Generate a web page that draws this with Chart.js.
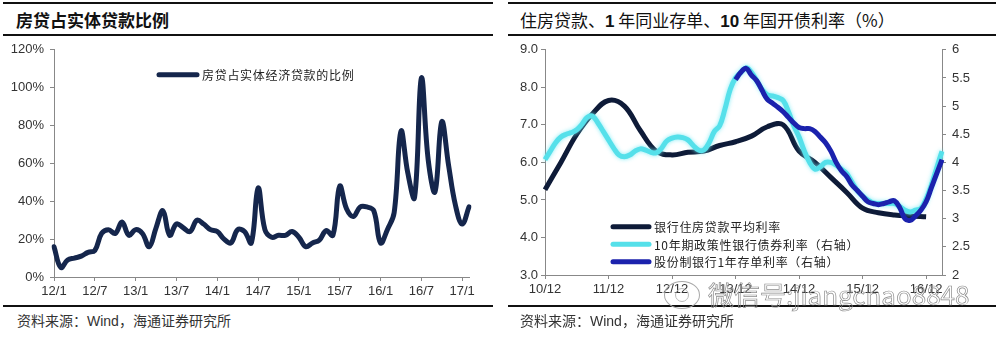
<!DOCTYPE html>
<html>
<head>
<meta charset="utf-8">
<script src="https://cdn.jsdelivr.net/npm/chart.js@4.4.1/dist/chart.umd.min.js"></script>
<style>
  body { margin:0; width:1000px; height:337px; background:#fff; position:relative; overflow:hidden;
         font-family:"Noto Sans CJK SC", sans-serif; }
  .rule { position:absolute; height:0; border-top:2px solid #111; }
  .title { position:absolute; top:7px; font-size:17px; color:#111; white-space:nowrap; }
  .src { position:absolute; top:310px; font-size:14px; color:#333; white-space:nowrap; }
  canvas { position:absolute; top:36px; }
  .wm { position:absolute; left:708px; top:275px; font-size:26px; color:transparent;
        -webkit-text-stroke:0.7px #8c8c8c; white-space:nowrap;
        font-family:"Noto Sans CJK SC", sans-serif; }
  .wm-icon { position:absolute; left:664px; top:281px; width:34px; height:26px; border:1px solid #aaa;
             border-radius:50%; }
  .wm-icon::after { content:""; position:absolute; left:10px; top:6px; width:12px; height:12px;
                    border:1px solid #bbb; border-radius:50%; }
</style>
</head>
<body>
<div class="rule" style="left:3px;width:490px;top:2px"></div>
<div class="rule" style="left:3px;width:490px;top:34px"></div>
<div class="rule" style="left:3px;width:490px;top:305px"></div>
<div class="rule" style="left:508px;width:488px;top:2px"></div>
<div class="rule" style="left:508px;width:488px;top:34px"></div>
<div class="rule" style="left:508px;width:488px;top:305px"></div>

<div class="title" style="left:16px;font-weight:bold">房贷占实体贷款比例</div>
<div class="title" style="left:520px">住房贷款、<b style="font-family:'Liberation Sans'">1</b> 年同业存单、<b style="font-family:'Liberation Sans'">10</b> 年国开债利率（%）</div>

<canvas id="shareChart" width="493" height="270" style="left:0"></canvas>
<canvas id="rateChart" width="495" height="270" style="left:500px"></canvas>

<div class="src" style="left:17px">资料来源：<span style="font-family:'Liberation Sans'">Wind</span>，海通证券研究所</div>
<div class="src" style="left:520px">资料来源：<span style="font-family:'Liberation Sans'">Wind</span>，海通证券研究所</div>

<div class="wm-icon"></div>
<div class="wm">微信号:jiangchao8848</div>

<script>
// --- 房贷占实体经济贷款的比例, monthly 2012/1 - 2017/2 (%)
const shareTicks = ['12/1','12/7','13/1','13/7','14/1','14/7','15/1','15/7','16/1','16/7','17/1'];
const shareValues = [
  16, 5, 9, 10, 11, 13, 14, 23, 25, 23,
  29, 22, 25, 23, 16, 26, 35, 22, 28, 26,
  24, 30, 28, 25, 24, 20, 18, 25, 24, 18,
  47, 25, 21, 22, 22, 24, 21, 16, 18, 19.5,
  24.5, 22, 48, 36, 32, 37, 37, 35, 18, 25,
  34, 77, 55, 42, 105, 62, 45, 82, 59, 38,
  28, 37
];

// --- rates, monthly 2010/12 - 2017/3 (%)
const rateTicks = ['10/12','11/12','12/12','13/12','14/12','15/12','16/12'];
// quarterly series, gaps spanned
const mortgageRate = [
  5.27, null, null, 6.0, null, null, 6.75, null, null, 7.3, null, null,
  7.65, null, null, 7.5, null, null, 6.85, null, null, 6.3, null, null,
  6.2, null, null, 6.27, null, null, 6.3, null, null, 6.45, null, null,
  6.55, null, null, 6.7, null, null, 6.95, null, null, 7.0, null, null,
  6.3, null, null, 6.0, null, null, 5.6, null, null, 5.2, null, null,
  4.78, null, null, 4.66, null, null, 4.6, null, null, 4.57, null, null,
  4.55, null, null, null
];
const cdb10y = [
  4.05, 4.2, 4.35, 4.45, 4.5, 4.53, 4.58, 4.68, 4.8, 4.82, 4.7, 4.55,
  4.4, 4.25, 4.13, 4.1, 4.13, 4.2, 4.24, 4.22, 4.18, 4.17, 4.25, 4.38,
  4.43, 4.45, 4.44, 4.4, 4.3, 4.22, 4.22, 4.35, 4.55, 4.65, 4.95, 5.3,
  5.5, 5.6, 5.68, 5.6, 5.45, 5.3, 5.2, 5.18, 5.15, 5.1, 4.9, 4.65,
  4.45, 4.2, 4.0, 3.88, 3.92, 4.0, 4.0, 3.95, 3.88, 3.8, 3.65, 3.5,
  3.4, 3.33, 3.28, 3.27, 3.27, 3.27, 3.27, 3.22, 3.15, 3.12, 3.15, 3.18,
  3.35, 3.6, 3.9, 4.2
];
const ncd1y = [
  null, null, null, null, null, null, null, null, null, null, null, null,
  null, null, null, null, null, null, null, null, null, null, null, null,
  null, null, null, null, null, null, null, null, null, null, null, null,
  5.47, 5.6, 5.67, 5.55, 5.45, 5.28, 5.12, 5.05, 4.98, 4.9, 4.8, 4.7,
  4.62, 4.6, 4.6, 4.55, 4.45, 4.35, 4.2, 4.0, 3.85, 3.75, 3.6, 3.5,
  3.4, 3.3, 3.27, 3.25, 3.27, 3.3, 3.32, 3.2, 3.0, 2.97, 3.05, 3.15,
  3.3, 3.55, 3.8, 4.05
];

function monthLabels(year, month, count) {
  const out = [];
  for (let i = 0; i < count; i++) {
    out.push((year % 100) + '/' + month);
    month++;
    if (month > 12) { month = 1; year++; }
  }
  return out;
}
const shareMonths = monthLabels(2012, 1, shareValues.length);
const rateMonths = monthLabels(2010, 12, cdb10y.length);

const tickFont = { family: 'Liberation Sans', size: 13 };

// legend drawn inside the plot area
const inlineLegend = {
  id: 'inlineLegend',
  afterDraw(chart, args, opts) {
    const { ctx, chartArea } = chart;
    ctx.save();
    ctx.font = '12px "Noto Sans CJK SC"';
    ctx.letterSpacing = '0.7px';
    ctx.textBaseline = 'middle';
    chart.data.datasets.forEach((ds, i) => {
      const x = chartArea.left + opts.dx;
      const y = chartArea.top + opts.dy + i * opts.gap;
      ctx.strokeStyle = ds.borderColor;
      ctx.lineWidth = 5;
      ctx.lineCap = 'round';
      ctx.beginPath();
      ctx.moveTo(x, y);
      ctx.lineTo(x + opts.len, y);
      ctx.stroke();
      ctx.fillStyle = '#222';
      ctx.fillText(ds.label, x + opts.len + 5, y + 1);
    });
    ctx.restore();
  }
};

// soft halo on the cyan line
const lineGlow = {
  id: 'lineGlow',
  beforeDatasetDraw(chart, args) {
    const ds = chart.data.datasets[args.index];
    chart.ctx.save();
    if (ds.glow) {
      chart.ctx.shadowColor = ds.glow;
      chart.ctx.shadowBlur = 4;
    }
  },
  afterDatasetDraw(chart) {
    chart.ctx.restore();
  }
};

function monthAxis(ticks, height) {
  return {
    grid: { drawOnChartArea: false, tickLength: 4, color: '#888' },
    border: { color: '#888' },
    ticks: {
      autoSkip: false, maxRotation: 0, padding: 3, color: '#333', font: tickFont,
      callback(v) {
        const lab = this.getLabelForValue(v);
        return ticks.includes(lab) ? lab : null;
      }
    },
    afterFit(s) { s.height = height; }
  };
}

new Chart(document.getElementById('shareChart'), {
  type: 'line',
  data: {
    labels: shareMonths,
    datasets: [{
      label: '房贷占实体经济贷款的比例',
      data: shareValues,
      borderColor: '#15264c',
      borderWidth: 5,
      pointRadius: 0,
      tension: 0.4,
      borderCapStyle: 'round',
      borderJoinStyle: 'round'
    }]
  },
  options: {
    responsive: false,
    animation: false,
    layout: { padding: { top: 11, right: 24, left: 0, bottom: 0 } },
    plugins: {
      legend: { display: false },
      tooltip: { enabled: false },
      inlineLegend: { dx: 105, dy: 25, gap: 0, len: 38 }
    },
    scales: {
      x: monthAxis(shareTicks, 29),
      y: {
        min: 0, max: 120,
        grid: { drawOnChartArea: false, tickLength: 4, color: '#888' },
        border: { color: '#888' },
        ticks: { stepSize: 20, padding: 6, color: '#333', font: tickFont, callback: v => v + '%' },
        afterFit(s) { s.width = 54; }
      }
    }
  },
  plugins: [inlineLegend]
});

new Chart(document.getElementById('rateChart'), {
  type: 'line',
  data: {
    labels: rateMonths,
    datasets: [
      {
        label: '银行住房贷款平均利率',
        data: mortgageRate,
        yAxisID: 'y',
        borderColor: '#0e1b38',
        borderWidth: 5,
        pointRadius: 0,
        tension: 0.4,
        spanGaps: true,
        order: 3
      },
      {
        label: '10年期政策性银行债券利率（右轴）',
        data: cdb10y,
        yAxisID: 'y1',
        borderColor: '#55e0ea',
        glow: 'rgba(120,235,245,0.9)',
        borderWidth: 5,
        pointRadius: 0,
        tension: 0.4,
        order: 2
      },
      {
        label: '股份制银行1年存单利率（右轴）',
        data: ncd1y,
        yAxisID: 'y1',
        borderColor: '#1b22ad',
        borderWidth: 5,
        pointRadius: 0,
        tension: 0.4,
        spanGaps: true,
        order: 1
      }
    ]
  },
  options: {
    responsive: false,
    animation: false,
    layout: { padding: { top: 12.5, right: 0, left: 0, bottom: 0 } },
    plugins: {
      legend: { display: false },
      tooltip: { enabled: false },
      inlineLegend: { dx: 68, dy: 177, gap: 17.5, len: 36 }
    },
    scales: {
      x: monthAxis(rateTicks, 31),
      y: {
        position: 'left', min: 3, max: 9,
        grid: { drawOnChartArea: false, tickLength: 4, color: '#888' },
        border: { color: '#888' },
        ticks: { stepSize: 1, padding: 3, color: '#333', font: tickFont, callback: v => v.toFixed(1) },
        afterFit(s) { s.width = 45; }
      },
      y1: {
        position: 'right', min: 2, max: 6,
        grid: { drawOnChartArea: false, tickLength: 4, color: '#888' },
        border: { color: '#888' },
        ticks: { stepSize: 0.5, padding: 6, color: '#333', font: tickFont, callback: v => String(v) },
        afterFit(s) { s.width = 53; }
      }
    }
  },
  plugins: [inlineLegend, lineGlow]
});
</script>
</body>
</html>
